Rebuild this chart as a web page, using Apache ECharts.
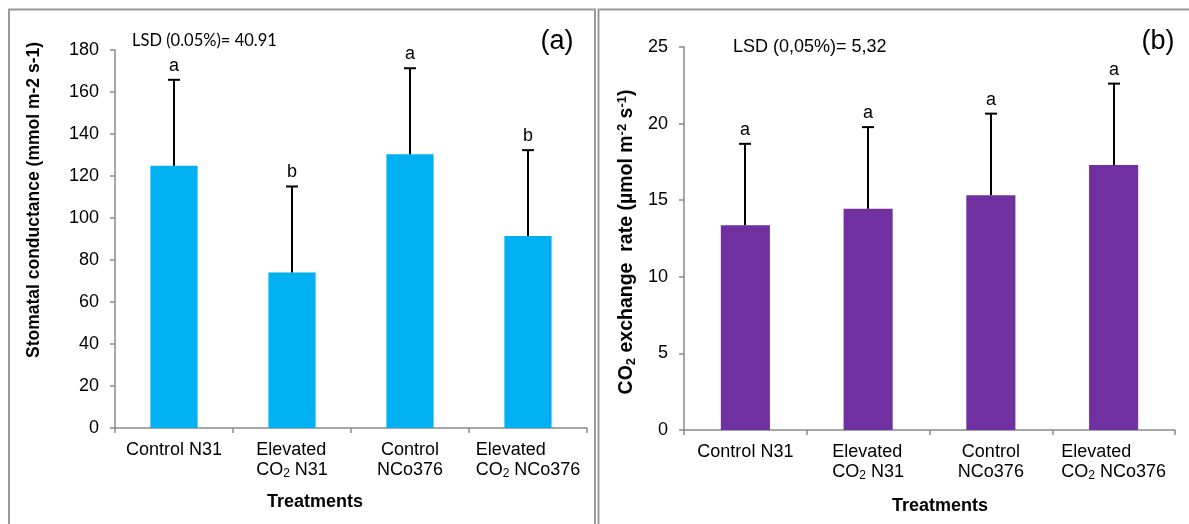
<!DOCTYPE html>
<html>
<head>
<meta charset="utf-8">
<script src="https://cdn.jsdelivr.net/npm/echarts@6/dist/echarts.min.js"></script>
<style>
  html, body { margin: 0; padding: 0; background: #fff; }
  #chart { width: 1189px; height: 524px; }
</style>
</head>
<body>
<div id="chart"></div>
<script>
// Treatments (line breaks as printed under each bar)
const categories = ['Control N31', 'Elevated\nCO2 N31', 'Control\nNCo376', 'Elevated\nCO2 NCo376'];

// Panel (a): stomatal conductance, mmol m-2 s-1
const conductance = [124.9, 74.1, 130.4, 91.4];
const conductanceLsd = 40.91;
const conductanceGroups = ['a', 'b', 'a', 'b'];
const conductanceAxis = [0, 180, 20];   // min, max, interval

// Panel (b): CO2 exchange rate, µmol m-2 s-1
const exchangeRate = [13.36, 14.45, 15.33, 17.29];
const exchangeLsd = 5.32;
const exchangeGroups = ['a', 'a', 'a', 'a'];
const exchangeAxis = [0, 25, 5];

const FONT = '"Liberation Sans", Arial, sans-serif';
const AXIS_GREY = '#8a8a8a';

// Category label with a subscript 2 in "CO2"; the "Elevated" labels are left aligned
function categoryLabel(value) {
  const lineStyle = value.indexOf('CO2') >= 0 ? 'tl' : 't';
  const subStyle = lineStyle === 'tl' ? 'sl' : 's';
  return value.split('\n').map(function (line) {
    return line.split('CO2').map(function (part) {
      return part ? '{' + lineStyle + '|' + part + '}' : '';
    }).join('{' + lineStyle + '|CO}{' + subStyle + '|2}');
  }).join('\n');
}

const labelRich = {
  t:  { fontFamily: FONT, fontSize: 18, lineHeight: 20, color: '#000' },
  tl: { fontFamily: FONT, fontSize: 18, lineHeight: 20, color: '#000', align: 'left' },
  s:  { fontFamily: FONT, fontSize: 12, lineHeight: 12, color: '#000', verticalAlign: 'bottom' },
  sl: { fontFamily: FONT, fontSize: 12, lineHeight: 12, color: '#000', verticalAlign: 'bottom', align: 'left' }
};

function xAxisFor(gridIndex) {
  return {
    type: 'category',
    gridIndex: gridIndex,
    data: categories,
    axisLine: { lineStyle: { color: AXIS_GREY, width: 1.5 } },
    axisTick: { show: true, alignWithLabel: false, length: 5, lineStyle: { color: AXIS_GREY, width: 1.5 } },
    axisLabel: { margin: 12, formatter: categoryLabel, rich: labelRich, interval: 0 },
    splitLine: { show: false }
  };
}

function yAxisFor(gridIndex, range) {
  return {
    type: 'value',
    gridIndex: gridIndex,
    min: range[0], max: range[1], interval: range[2],
    axisLine: { show: true, lineStyle: { color: AXIS_GREY, width: 1.5 } },
    axisTick: { show: true, length: 5, lineStyle: { color: AXIS_GREY, width: 1.5 } },
    axisLabel: { margin: 16, fontFamily: FONT, fontSize: 18, color: '#000' },
    splitLine: { show: false }
  };
}

// Error bar (value + LSD) with a cap and the significance letter above it
function errorBars(gridIndex, values, lsd, groups) {
  return {
    type: 'custom',
    xAxisIndex: gridIndex,
    yAxisIndex: gridIndex,
    z: 10,
    silent: true,
    data: values.map(function (v, i) { return [i, v, v + lsd]; }),
    encode: { x: 0, y: [1, 2] },
    renderItem: function (params, api) {
      const base = api.coord([api.value(0), api.value(1)]);
      const top = api.coord([api.value(0), api.value(2)]);
      const x = Math.round(base[0]);
      return {
        type: 'group',
        children: [
          { type: 'line', shape: { x1: x, y1: base[1], x2: x, y2: top[1] },
            style: { stroke: '#000', lineWidth: 2 } },
          { type: 'line', shape: { x1: x - 6, y1: top[1], x2: x + 6, y2: top[1] },
            style: { stroke: '#000', lineWidth: 2 } },
          { type: 'text', x: x, y: top[1] - 14,
            style: { text: groups[params.dataIndex], fontFamily: FONT, fontSize: 18,
                     fill: '#000', align: 'center', verticalAlign: 'middle' } }
        ]
      };
    }
  };
}

const chart = echarts.init(document.getElementById('chart'), null, { renderer: 'canvas' });

chart.setOption({
  backgroundColor: '#fff',
  animation: false,
  grid: [
    { left: 115, right: 602, top: 50, bottom: 96 },
    { left: 684, right: 14, top: 47, bottom: 94 }
  ],
  xAxis: [xAxisFor(0), xAxisFor(1)],
  yAxis: [yAxisFor(0, conductanceAxis), yAxisFor(1, exchangeAxis)],
  series: [
    { type: 'bar', xAxisIndex: 0, yAxisIndex: 0, data: conductance, barWidth: '40%',
      itemStyle: { color: '#00B0F0' } },
    { type: 'bar', xAxisIndex: 1, yAxisIndex: 1, data: exchangeRate, barWidth: '40%',
      itemStyle: { color: '#7030A0' } },
    errorBars(0, conductance, conductanceLsd, conductanceGroups),
    errorBars(1, exchangeRate, exchangeLsd, exchangeGroups)
  ],
  graphic: [
    // panel frames
    { type: 'rect', shape: { x: 9, y: 9.5, width: 586, height: 600 },
      style: { fill: null, stroke: '#9a9a9a', lineWidth: 2 }, z: 0 },
    { type: 'rect', shape: { x: 598.5, y: 9.5, width: 620, height: 600 },
      style: { fill: null, stroke: '#9a9a9a', lineWidth: 2 }, z: 0 },

    // panel (a) texts
    { type: 'text', x: 132, y: 41,
      style: { text: 'LSD (0.05%)= 40.91', fontFamily: 'Lato, sans-serif', fontSize: 16.5,
               fill: '#000', align: 'left', verticalAlign: 'middle' } },
    { type: 'text', x: 557, y: 42,
      style: { text: '(a)', fontFamily: FONT, fontSize: 27, fill: '#000',
               align: 'center', verticalAlign: 'middle' } },
    { type: 'text', x: 34, y: 200, rotation: Math.PI / 2,
      style: { text: 'Stomatal conductance (mmol m-2 s-1)', fontFamily: FONT, fontSize: 17.5,
               fontWeight: 'bold', fill: '#000', align: 'center', verticalAlign: 'middle' } },
    { type: 'text', x: 315, y: 502,
      style: { text: 'Treatments', fontFamily: FONT, fontSize: 18, fontWeight: 'bold',
               fill: '#000', align: 'center', verticalAlign: 'middle' } },

    // panel (b) texts
    { type: 'text', x: 733, y: 47,
      style: { text: 'LSD (0,05%)= 5,32', fontFamily: FONT, fontSize: 18,
               fill: '#000', align: 'left', verticalAlign: 'middle' } },
    { type: 'text', x: 1158, y: 42,
      style: { text: '(b)', fontFamily: FONT, fontSize: 27, fill: '#000',
               align: 'center', verticalAlign: 'middle' } },
    { type: 'text', x: 627, y: 242, rotation: Math.PI / 2,
      style: {
        text: '{b|CO}{sb|2}{b| exchange  rate (µmol m}{sp|-2}{b| s}{sp|-1}{b|)}',
        align: 'center', verticalAlign: 'middle',
        rich: {
          b:  { fontFamily: FONT, fontSize: 19.5, fontWeight: 'bold', lineHeight: 22, fill: '#000' },
          sb: { fontFamily: FONT, fontSize: 13, fontWeight: 'bold', lineHeight: 13, fill: '#000', verticalAlign: 'bottom' },
          sp: { fontFamily: FONT, fontSize: 13, fontWeight: 'bold', lineHeight: 13, fill: '#000', verticalAlign: 'top' }
        }
      } },
    { type: 'text', x: 940, y: 506,
      style: { text: 'Treatments', fontFamily: FONT, fontSize: 18, fontWeight: 'bold',
               fill: '#000', align: 'center', verticalAlign: 'middle' } }
  ]
});
</script>
</body>
</html>
